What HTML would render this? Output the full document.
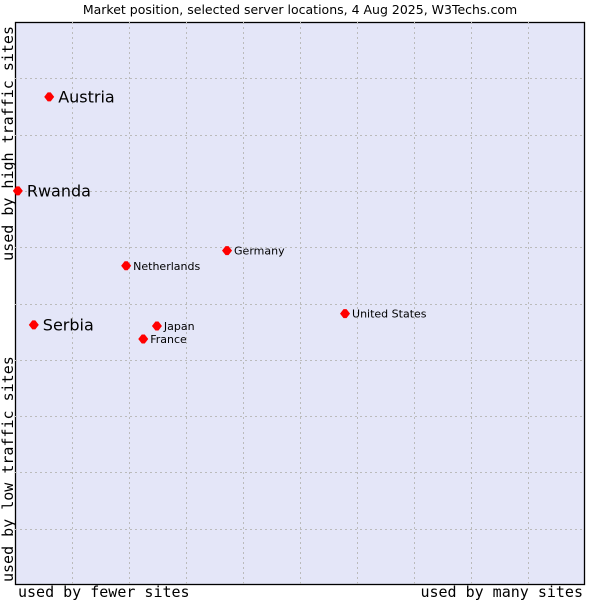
<!DOCTYPE html>
<html><head><meta charset="utf-8"><style>
body{margin:0;background:#fff}
svg{display:block}
text{font-family:"DejaVu Sans","Liberation Sans",sans-serif}
.mono{font-family:"DejaVu Sans Mono","Liberation Mono",monospace;font-size:15px}
</style></head><body>
<svg id="chart" width="600" height="600">
<text x="300" y="14" text-anchor="middle" font-size="12.5">Market position, selected server locations, 4 Aug 2025, W3Techs.com</text>
<rect x="15.5" y="22.5" width="569" height="562" fill="#e4e6f8" stroke="#000" stroke-width="1.3"/>
<g id="grid"></g>
<g id="points"></g>
<text class="mono" x="18" y="597">used by fewer sites</text>
<text class="mono" x="583" y="597" text-anchor="end">used by many sites</text>
<text class="mono" transform="translate(13,582) rotate(-90)">used by low traffic sites</text>
<text class="mono" transform="translate(13,26) rotate(-90)" text-anchor="end">used by high traffic sites</text>
</svg>
<script>
const countries=["Austria","Rwanda","Germany","Netherlands","United States","Serbia","Japan","France"];
const xValues=[6.0,0.5,37.2,19.5,57.9,3.3,24.9,22.5];
const yValues=[86.7,70.0,59.4,56.7,48.2,46.2,46.0,43.7];
const highlighted=[true,true,false,false,false,true,false,false];
const L=15,R=585,T=22,B=585;
const sx=v=>L+v/100*(R-L), sy=v=>B-v/100*(B-T);
const NS="http://www.w3.org/2000/svg";
const grid=document.getElementById('grid');
for(let k=1;k<10;k++){
  const x=Math.round(sx(k*10))+0.5, y=Math.round(sy(k*10))+0.5;
  const v=document.createElementNS(NS,'line');
  
  
  v.setAttribute('x1',x);v.setAttribute('x2',x);v.setAttribute('y1',T);v.setAttribute('y2',B);
  v.setAttribute('stroke','#bbbbbb');v.setAttribute('stroke-dasharray','2,3');grid.appendChild(v);
  const h=document.createElementNS(NS,'line');
  
  
  h.setAttribute('x1',L);h.setAttribute('x2',R);h.setAttribute('y1',y);h.setAttribute('y2',y);
  h.setAttribute('stroke','#bbbbbb');h.setAttribute('stroke-dasharray','2,3');grid.appendChild(h);
}
const pts=document.getElementById('points');
countries.forEach((c,i)=>{
  const x=sx(xValues[i]), y=sy(yValues[i]);
  const d=document.createElementNS(NS,'path');
  
  
  d.setAttribute('d',`M${x-5},${y} L${x-1.5},${y-4.5} L${x+1.5},${y-4.5} L${x+5},${y} L${x+1.5},${y+4.5} L${x-1.5},${y+4.5}Z`);
  d.setAttribute('fill','#f00');pts.appendChild(d);
  const t=document.createElementNS(NS,'text');
  
  
  const big=highlighted[i];
  t.setAttribute('x',x+(big?9:7));t.setAttribute('y',y+(big?5.5:4));
  t.setAttribute('font-size',big?16:11);
  t.textContent=c;pts.appendChild(t);
});
</script>
</body></html>
